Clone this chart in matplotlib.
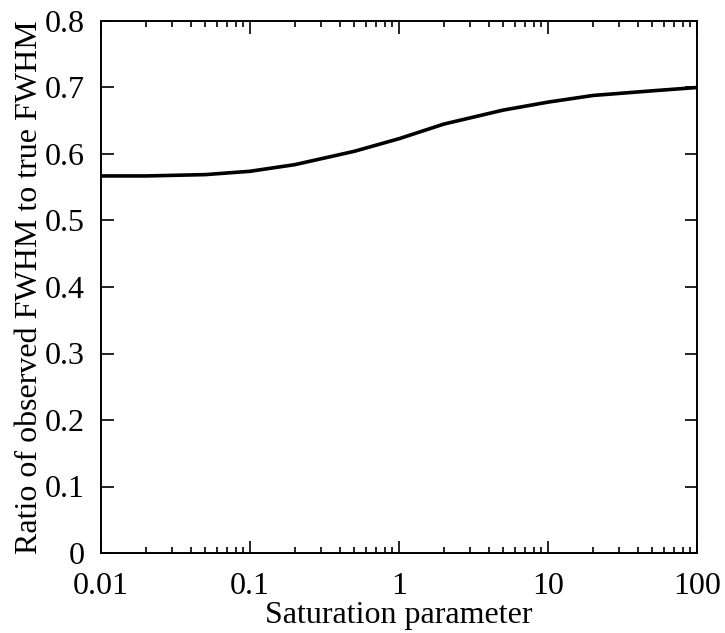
import numpy as np
import matplotlib
matplotlib.use("Agg")
import matplotlib.pyplot as plt
from matplotlib.ticker import FixedLocator, FixedFormatter, LogLocator, NullFormatter

# ratio of observed to true FWHM vs saturation parameter
SAT = [0.01, 0.02, 0.05, 0.1, 0.2, 0.5, 1, 2, 5, 10, 20, 50, 100]
RATIO = [0.567, 0.567, 0.569, 0.574, 0.584, 0.604, 0.623, 0.645, 0.666, 0.678, 0.688, 0.695, 0.700]
XTICKS = [0.01, 0.1, 1, 10, 100]
XLABELS = ["0.01", "0.1", "1", "10", "100"]
YTICKS = [0, 0.1, 0.2, 0.3, 0.4, 0.5, 0.6, 0.7, 0.8]
YLABELS = ["0", "0.1", "0.2", "0.3", "0.4", "0.5", "0.6", "0.7", "0.8"]

plt.rcParams["font.family"] = ["Liberation Serif", "DejaVu Serif"]

fig = plt.figure(figsize=(7.25, 6.33), dpi=100)
ax = fig.add_axes([101 / 725, 1 - 553 / 633, 596 / 725, 532 / 633])

ax.plot(SAT, RATIO, color="black", lw=2.6, solid_capstyle="butt")

ax.set_xscale("log")
ax.set_xlim(0.01, 100)
ax.set_ylim(0, 0.8)
ax.xaxis.set_major_locator(FixedLocator(XTICKS))
ax.xaxis.set_major_formatter(FixedFormatter(XLABELS))
ax.xaxis.set_minor_locator(LogLocator(base=10, subs=np.arange(2, 10)))
ax.xaxis.set_minor_formatter(NullFormatter())
ax.yaxis.set_major_locator(FixedLocator(YTICKS))
ax.yaxis.set_major_formatter(FixedFormatter(YLABELS))

ax.tick_params(which="both", direction="in", top=True, right=True, labelsize=23, width=1.2)
ax.tick_params(which="major", length=9)
ax.tick_params(which="minor", length=4)
ax.tick_params(axis="x", which="major", pad=14)
ax.tick_params(axis="y", which="major", pad=11.5)
for s in ax.spines.values():
    s.set_linewidth(1.4)

ax.set_xlabel("Saturation parameter", fontsize=23, labelpad=0)
ax.set_ylabel("Ratio of observed FWHM to true FWHM", fontsize=23, labelpad=1)

fig.savefig("out.png", dpi=100)
